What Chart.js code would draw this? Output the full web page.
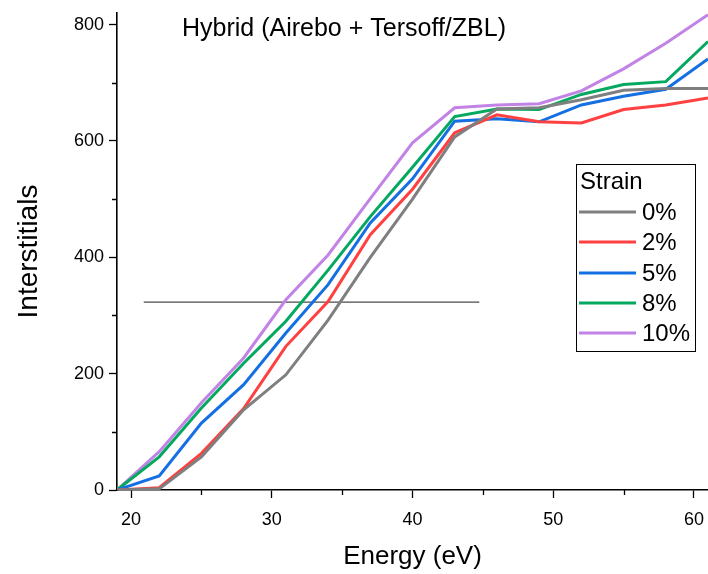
<!DOCTYPE html>
<html>
<head>
<meta charset="utf-8">
<script src="https://cdn.jsdelivr.net/npm/chart.js@4/dist/chart.umd.min.js"></script>
<style>
html,body{margin:0;padding:0;background:#fff;}
#wrap{width:708px;height:574px;position:relative;}
</style>
</head>
<body>
<div id="wrap"><canvas id="c" width="708" height="574"></canvas></div>
<script>
const energy = [19,22,25,28,31,34,37,40,43,46,49,52,55,58,61];
const strain0  = [0,2,57,138,198,292,400,500,607,655,657,671,687,690,690];
const strain2  = [0,4,63,140,247,324,439,517,614,645,633,631,654,662,674];
const strain5  = [0,24,115,181,270,353,459,535,634,638,633,662,677,689,741];
const strain8  = [0,57,141,218,290,378,470,555,642,655,654,680,697,702,771];
const strain10 = [0,66,150,227,327,404,501,597,657,662,664,686,724,768,817];
const seriesLabels = ['0%','2%','5%','8%','10%'];
const refLineX = [20.9, 44.75];
const refLineY = [323, 323];
const xTicks = [20,30,40,50,60];
const xMinorTicks = [25,35,45,55];
const yTicks = [0,200,400,600,800];
const yMinorTicks = [100,300,500,700];
const titleText = 'Hybrid (Airebo + Tersoff/ZBL)';
const legendTitle = 'Strain';

const colors = ['#7f7f7f','#ff4040','#1470e2','#05a85f','#c283e6'];
const allSeries = [strain0,strain2,strain5,strain8,strain10];
const FONT = "'Liberation Sans', Arial, sans-serif";

const datasets = allSeries.map((s,i)=>({
  label: seriesLabels[i],
  data: energy.map((x,j)=>({x:x,y:s[j]})),
  borderColor: colors[i],
  borderWidth: 3,
  pointRadius: 0,
  tension: 0,
  fill: false
}));
datasets.push({
  label: '_ref',
  data: refLineX.map((x,j)=>({x:x,y:refLineY[j]})),
  borderColor: '#4a4a4a',
  borderWidth: 1.3,
  pointRadius: 0,
  fill: false
});

const extras = {
  id: 'extras',
  afterDatasetsDraw(chart){
    const ctx = chart.ctx;
    const xs = chart.scales.x, ys = chart.scales.y;
    ctx.save();
    ctx.strokeStyle = '#000';
    ctx.lineWidth = 1.3;
    ctx.beginPath();
    xMinorTicks.forEach(v=>{
      const px = Math.round(xs.getPixelForValue(v))+0.5;
      ctx.moveTo(px, ys.bottom); ctx.lineTo(px, ys.bottom+5);
    });
    yMinorTicks.forEach(v=>{
      const py = Math.round(ys.getPixelForValue(v))+0.5;
      ctx.moveTo(xs.left, py); ctx.lineTo(xs.left-5, py);
    });
    ctx.stroke();
    ctx.fillStyle = '#000';
    ctx.font = '25px ' + FONT;
    ctx.textBaseline = 'middle';
    ctx.textAlign = 'left';
    ctx.fillText(titleText, 182, 29);
    const bx = 576.5, by = 164.5, bw = 119, bh = 187;
    ctx.fillStyle = '#fff';
    ctx.fillRect(bx, by, bw, bh);
    ctx.strokeStyle = '#000';
    ctx.lineWidth = 1;
    ctx.strokeRect(bx, by, bw, bh);
    ctx.fillStyle = '#000';
    ctx.font = '24px ' + FONT;
    ctx.fillText(legendTitle, 580, 182);
    const rowY = [212, 242, 273, 303, 333];
    chart.data.datasets.filter(d=>!d.label.startsWith('_')).forEach((d,i)=>{
      const y = rowY[i];
      ctx.strokeStyle = d.borderColor;
      ctx.lineWidth = 3;
      ctx.beginPath();
      ctx.moveTo(579, y); ctx.lineTo(636, y);
      ctx.stroke();
      ctx.fillStyle = '#000';
      ctx.fillText(d.label, 642, y+1);
    });
    ctx.restore();
  }
};

new Chart(document.getElementById('c'), {
  type: 'line',
  data: { datasets },
  options: {
    responsive: false,
    animation: false,
    events: [],
    layout: { padding: { top: 13, right: 0, left: 0, bottom: 0 } },
    plugins: { legend: { display: false }, tooltip: { enabled: false }, title: { display: false } },
    scales: {
      x: {
        type: 'linear',
        min: 19, max: 61,
        afterFit(s){ s.height = 84; s.paddingLeft = 0; s.paddingRight = 0; },
        afterBuildTicks(s){ s.ticks = xTicks.map(v=>({value:v})); },
        ticks: { includeBounds: false, color: '#000', font: { family: FONT, size: 18 }, padding: 11, maxRotation: 0 },
        grid: { drawOnChartArea: false, drawTicks: true, tickLength: 8, tickColor: '#000', tickWidth: 1.3 },
        border: { display: true, color: '#000', width: 1.6 },
        title: { display: true, text: 'Energy (eV)', color: '#000', font: { family: FONT, size: 26 }, padding: { top: 8, bottom: 2 } }
      },
      y: {
        type: 'linear',
        min: 0, max: 820,
        afterFit(s){ s.width = 117; s.paddingTop = 0; s.paddingBottom = 0; },
        afterBuildTicks(s){ s.ticks = yTicks.map(v=>({value:v})); },
        ticks: { includeBounds: false, color: '#000', font: { family: FONT, size: 18 }, padding: 5 },
        grid: { drawOnChartArea: false, drawTicks: true, tickLength: 8, tickColor: '#000', tickWidth: 1.3 },
        border: { display: true, color: '#000', width: 1.6 },
        title: { display: true, text: 'Interstitials', color: '#000', font: { family: FONT, size: 28 }, padding: { top: 12, bottom: 0 } }
      }
    }
  },
  plugins: [extras]
});
</script>
</body>
</html>
